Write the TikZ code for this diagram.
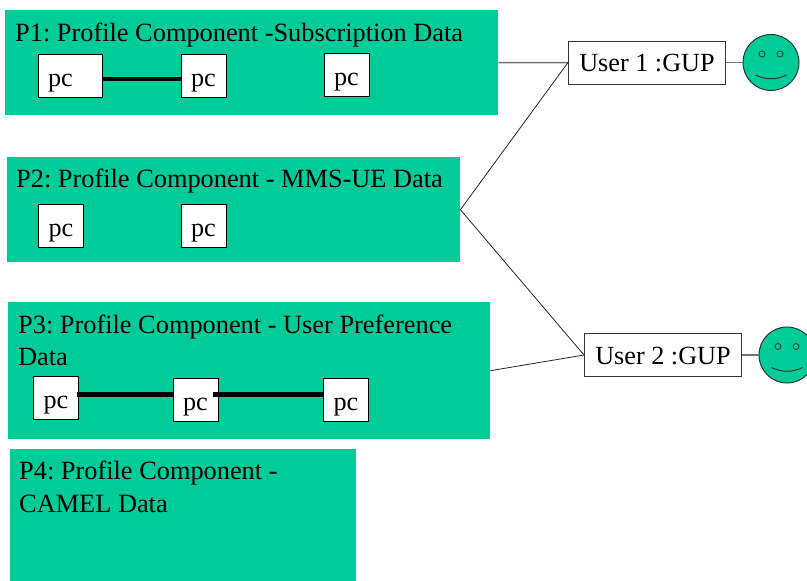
\documentclass[tikz,border=0pt]{standalone}
\usepackage{fontspec}
\setmainfont{Liberation Serif}
\definecolor{panelgreen}{HTML}{00CC99}
\tikzset{
    panel/.style={fill=panelgreen, inner sep=0pt, anchor=north west},
    title/.style={anchor=north west, inner sep=0pt, align=left, font=\fontsize{26.35}{32.3}\selectfont\frenchspacing},
    pcbox/.style={draw=black, fill=white, line width=1pt, inner sep=0pt, minimum height=43pt, minimum width=45pt, text height=22pt, text depth=1pt, font=\fontsize{26.2}{32}\selectfont},
    userbox/.style={draw=black!80, fill=white, line width=1pt, inner sep=0pt, minimum height=43pt, minimum width=157pt, text height=19pt, text depth=1pt, font=\fontsize{26.2}{32}\selectfont},
    face/.style={draw=black!80, fill=panelgreen, circle, line width=1pt, inner sep=0pt, minimum size=56pt},
    link/.style={black!55, line width=1.5pt},
    wire/.style={black!85, line width=0.8pt},
    bond/.style={black, line width=4.5pt}
}
\begin{document}
\begin{tikzpicture}[x=1pt, y=-1pt]
        \useasboundingbox (0,0) rectangle (807,581);

        % panels
        \node (p1) [panel, minimum width=493pt, minimum height=105pt] at (5,10) {};
        \node (p2) [panel, minimum width=453pt, minimum height=105pt] at (7,157) {};
        \node (p3) [panel, minimum width=482pt, minimum height=137pt] at (8,302) {};
        \node (p4) [panel, minimum width=346pt, minimum height=132pt] at (10,449) {};

        \node (t1) [title] at (15,23) {P1: Profile Component -Subscription Data};
        \node (t2) [title] at (16,169) {P2: Profile Component - MMS-UE Data};
        \node (t3) [title] at (18,314.5) {P3: Profile Component - User Preference\\Data};
        \node (t4) [title] at (19,461) {P4: Profile Component -\\CAMEL Data};

        % pc boxes
        \node (a1) [pcbox, minimum width=64pt] at (70,75.5) {\hspace{-19pt}pc};
        \node (a2) [pcbox] at (203.5,75.5) {pc};
        \node (a3) [pcbox] at (346.5,74.5) {pc};
        \node (b1) [pcbox] at (61,225.5) {pc};
        \node (b2) [pcbox] at (203.5,225.5) {pc};
        \node (c1) [pcbox] at (56,397.5) {pc};
        \node (c2) [pcbox] at (195.5,399.5) {pc};
        \node (c3) [pcbox] at (346,399.5) {pc};

        \draw[bond] (a1.east |- 0,79) -- (a2.west |- 0,79);
        \draw[bond] ([xshift=-2pt]c1.east |- 0,394.5) -- (c2.west |- 0,394.5);
        \draw[bond] ([xshift=-6pt]c2.east |- 0,394.5) -- (c3.west |- 0,394.5);

        % users
        \node (u1) [userbox] at (647,62.5) {User 1 :GUP};
        \node (u2) [userbox] at (663,355) {User 2 :GUP};
        \node (f1) [face] at (771,62.5) {};
        \node (f2) [face] at (787,355) {};

        \draw[link] (p1.east) -- (u1.west);
        \draw[link] (u1.east) -- (f1.west);
        \draw[link] (u2.east) -- (f2.west);
        \draw[wire] (p2.east) -- (u1.west);
        \draw[wire] (p2.east) -- (u2.west);
        \draw[wire] (p3.east) -- (u2.west);

        \foreach \f in {f1, f2} {
            \draw[black!80, line width=0.8pt] (\f.center) ++(-9,-8.5) circle[radius=3];
            \draw[black!80, line width=0.8pt] (\f.center) ++(9,-8.5) circle[radius=3];
            \draw[black!80, line width=1pt] (\f.center) ++(-15.5,12.5) .. controls +(10,5) and +(-10,5) .. +(31,0);
        }
    \end{tikzpicture}
\end{document}
